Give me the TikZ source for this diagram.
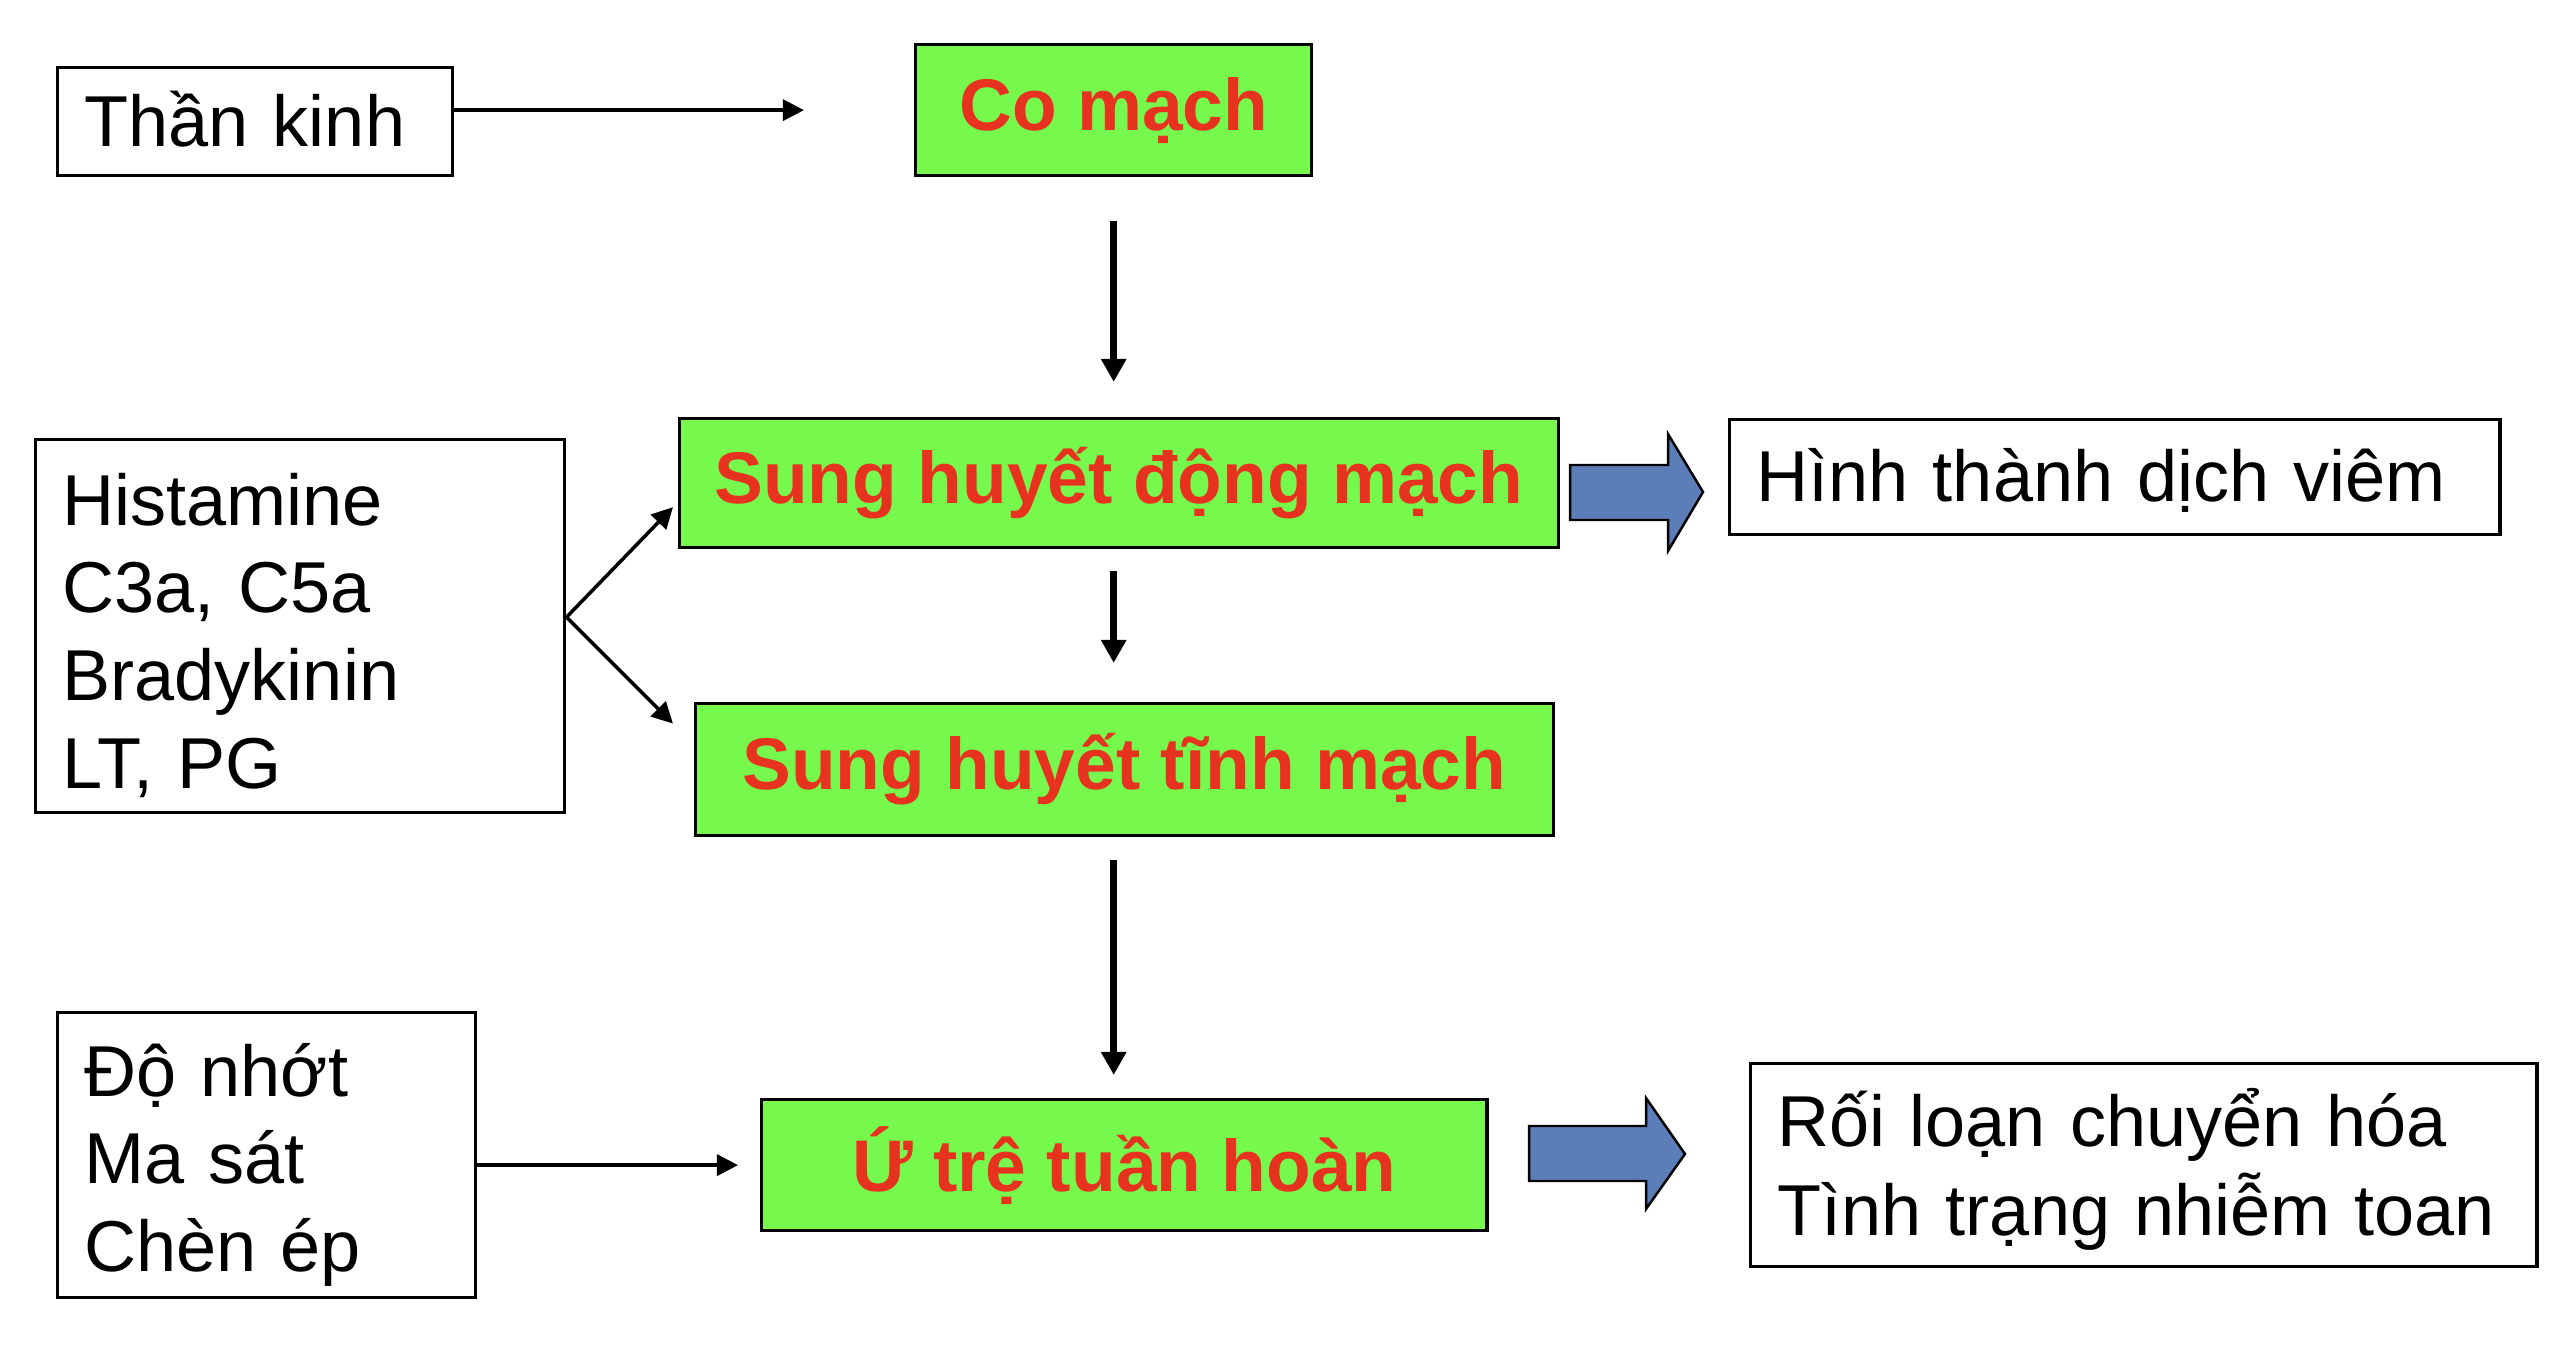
\documentclass[tikz,border=0pt]{standalone}
\usepackage{fontspec}
\setmainfont{Liberation Sans}
\usetikzlibrary{arrows.meta}
\definecolor{boxgreen}{RGB}{118,249,76}
\definecolor{boxred}{RGB}{232,50,32}
\definecolor{bigblue}{RGB}{91,125,184}
\newcommand{\lowtxt}[2]{\raisebox{-#1}[\height][\depth]{\begin{tabular}{@{}l@{}}#2\end{tabular}}}
\tikzset{
  whitebox/.style={draw=black, line width=0.9pt, fill=white, font=\fontsize{20.5}{24.9}\selectfont, inner xsep=0.27cm, inner ysep=0pt, anchor=north west, text width=#1, align=left},
  greenbox/.style={draw=black, line width=0.9pt, fill=boxgreen, font=\fontsize{20.8}{24.9}\selectfont\bfseries, text=boxred, align=center, inner sep=0pt, anchor=north west},
  arrv/.style={line width=2.1pt, -{Triangle[length=0.23cm,width=0.24cm]}},
  arrh/.style={line width=1pt, -{Triangle[length=0.21cm,width=0.21cm]}},
  bigarrow/.style={draw=black, line width=0.7pt, fill=bigblue, line join=miter}
}
\begin{document}
\begin{tikzpicture}[x=0.01cm,y=-0.01cm]
\useasboundingbox (0,0) rectangle (2573,1358);
% white boxes
\node[whitebox=3.41cm, minimum width=3.95cm, minimum height=1.08cm] (tk) at (56,66) {\lowtxt{0.07cm}{Thần kinh}};
\node[whitebox=4.75cm, minimum width=5.29cm, minimum height=3.73cm] (hist) at (34,438) {\lowtxt{0.13cm}{Histamine\\C3a, C5a\\Bradykinin\\LT, PG}};
\node[whitebox=3.64cm, minimum width=4.18cm, minimum height=2.85cm] (dn) at (56,1011) {\lowtxt{0.11cm}{Độ nhớt\\Ma sát\\Chèn ép}};
\node[whitebox=7.16cm, minimum width=7.70cm, minimum height=1.15cm] (ht) at (1728,418) {\lowtxt{0.07cm}{Hình thành dịch viêm}};
\node[whitebox=7.32cm, minimum width=7.86cm, minimum height=2.03cm] (rl) at (1749,1062) {\lowtxt{0.08cm}{Rối loạn chuyển hóa\\Tình trạng nhiễm toan}};
% green boxes
\node[greenbox, minimum width=3.96cm, minimum height=1.31cm] (cm) at (914,43) {Co mạch};
\node[greenbox, minimum width=8.78cm, minimum height=1.29cm] (dm) at (678,417) {Sung huyết động mạch};
\node[greenbox, minimum width=8.57cm, minimum height=1.32cm] (tm) at (694,702) {Sung huyết tĩnh mạch};
\node[greenbox, minimum width=7.25cm, minimum height=1.31cm] (ut) at (760,1098) {Ứ trệ tuần hoàn};
% connectors
\draw[arrh, shorten >=1.1cm] (tk.east |- cm.west) -- (cm.west);
\draw[arrv, shorten <=0.44cm, shorten >=0.35cm] (cm.south) -- (cm.south |- dm.north);
\draw[arrv, shorten <=0.22cm, shorten >=0.39cm] (cm.south |- dm.south) -- (cm.south |- tm.north);
\draw[arrv, shorten <=0.23cm, shorten >=0.23cm] (cm.south |- tm.south) -- (cm.south |- ut.north);
\coordinate (hs) at ([yshift=0.09cm]hist.east);
\draw[arrh] (hs) -- ([xshift=-0.05cm,yshift=-0.24cm]dm.west);
\draw[arrh] (hs) -- ([xshift=-0.21cm,yshift=0.46cm]tm.west);
\draw[arrh, shorten >=0.22cm] (dn.east |- ut.west) -- (ut.west);
% big blue arrows
\draw[bigarrow] (1570,465) -- (1668,465) -- (1668,434) -- (1703,492) -- (1668,551) -- (1668,520) -- (1570,520) -- cycle;
\draw[bigarrow] (1529,1126) -- (1646,1126) -- (1646,1098) -- (1685,1154) -- (1646,1209) -- (1646,1181) -- (1529,1181) -- cycle;
\end{tikzpicture}
\end{document}
